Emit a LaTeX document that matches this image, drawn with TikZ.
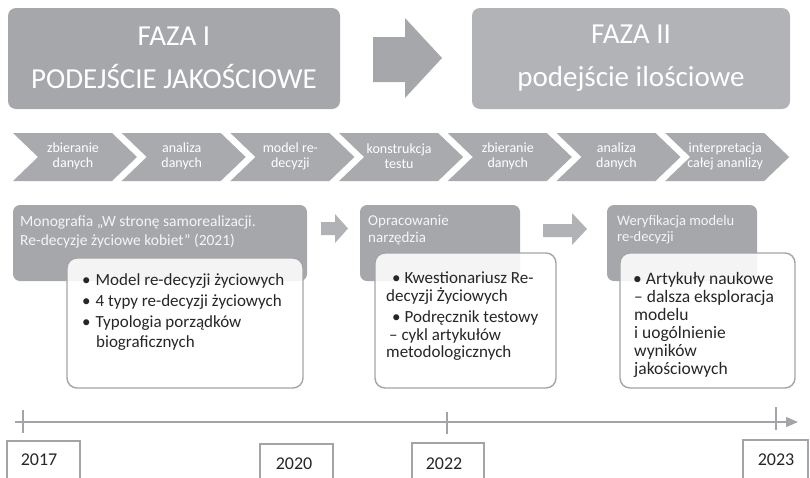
\documentclass[tikz,border=0pt]{standalone}
\usepackage{fontspec}
\setmainfont{Carlito}
\usetikzlibrary{arrows.meta}
\definecolor{gA}{HTML}{A6A7AA}
\definecolor{gB}{HTML}{B2B3B6}
\definecolor{gC}{HTML}{A9AAAD}
\definecolor{gArr}{HTML}{B1B2B5}
\definecolor{gLine}{HTML}{A3A4A7}
\definecolor{txt}{HTML}{262626}
\definecolor{lt}{HTML}{F5F5F5}
\tikzset{
  phase/.style={fill=#1, rounded corners=8pt, draw=none},
  phasetext/.style={text=white, align=center, font=\fontsize{29}{43}\selectfont, inner sep=0pt},
  chevtext/.style={text=white, align=center, font=\fontsize{14}{15}\selectfont, inner sep=0pt},
  graybox/.style={fill=gA, rounded corners=7pt, draw=none},
  whitebox/.style={fill=white, fill opacity=0.88, draw=gLine, line width=1.4pt, rounded corners=10pt},
  ttl/.style={text=lt, anchor=base west, inner sep=0pt},
  blt/.style={text=txt, anchor=base west, inner sep=0pt},
  yearbox/.style={draw=gLine, line width=1.6pt, fill=white},
  yeartext/.style={text=txt, font=\fontsize{18}{20}\selectfont, inner sep=0pt},
  tick/.style={draw=gLine, line width=1.2pt}
}
\begin{document}
\begin{tikzpicture}[x=1pt,y=-1pt]
\useasboundingbox (0,0) rectangle (810,477);
\clip (0,0) rectangle (810,477);
% phase boxes
\path[phase=gA] (8,8) rectangle (340,109);
\node[phasetext] (faza1) at (174,58) {FAZA I\\PODEJŚCIE JAKOŚCIOWE};
\path[phase=gB] (472,8) rectangle (790,109);
\node[phasetext] (faza2) at (631,58) {FAZA II\\podejście ilościowe};
% big arrow
\fill[gA] (373,37) -- (405,37) -- (405,18) -- (442,58) -- (405,98) -- (405,82) -- (373,82) -- cycle;
% chevrons
\foreach \i/\t in {0/{zbieranie\\danych},1/{analiza\\danych},2/{model re-\\decyzji},3/{konstrukcja\\testu},4/{zbieranie\\danych},5/{analiza\\danych},6/{interpretacja\\całej ananlizy}}{
  \pgfmathsetmacro{\L}{13+108.7*\i}
  \fill[gC] (\L,133) -- (\L+99,133) -- (\L+124,157) -- (\L+99,181) -- (\L,181) -- (\L+25,157) -- cycle;
  \node[chevtext] (chev\i) at (\L+60,156) {\t};
}
% middle gray boxes
\path[graybox] (13,205) rectangle (307,281);
\path[graybox] (360,205) rectangle (520,281);
\path[graybox] (607,205) rectangle (757,281);
\node[ttl, font=\fontsize{15.5}{18}\selectfont] (ta1) at (20,226) {Monografia „W stronę samorealizacji.};
\node[ttl, font=\fontsize{15.5}{18}\selectfont] (ta2) at (20,245) {Re-decyzje życiowe kobiet" (2021)};
\node[ttl, font=\fontsize{15}{18}\selectfont] (tb1) at (368,225) {Opracowanie};
\node[ttl, font=\fontsize{15}{18}\selectfont] (tb2) at (368,242) {narzędzia};
\node[ttl, font=\fontsize{14.5}{16}\selectfont] (tc1) at (617,225) {Weryfikacja modelu};
\node[ttl, font=\fontsize{14.5}{16}\selectfont] (tc2) at (617,241) {re-decyzji};
% small arrows
\fill[gArr] (321,222) -- (335,222) -- (335,214) -- (348,228.5) -- (335,243) -- (335,235) -- (321,235) -- cycle;
\fill[gArr] (543,224) -- (572,224) -- (572,213) -- (587,229) -- (572,245) -- (572,237) -- (543,237) -- cycle;
% white boxes
\path[whitebox] (67,258) rectangle (303,388);
\path[whitebox] (375,253) rectangle (556,388);
\path[whitebox] (620,253) rectangle (795,388);
% bullets A
\begin{scope}[font=\fontsize{17}{20}\selectfont]
\node[blt] (a1) at (82,285) {•\hspace{5pt}Model re-decyzji życiowych};
\node[blt] (a2) at (82,306) {•\hspace{5pt}4 typy re-decyzji życiowych};
\node[blt] (a3) at (82,327) {•\hspace{5pt}Typologia porządków};
\node[blt] (a4) at (96,347) {biograficznych};
\end{scope}
% bullets B
\begin{scope}[font=\fontsize{17}{19}\selectfont]
\node[blt] (b1) at (392,283) {•\hspace{4pt}Kwestionariusz Re-};
\node[blt] (b2) at (386,301) {decyzji Życiowych};
\node[blt] (b3) at (392,322) {•\hspace{4pt}Podręcznik testowy};
\node[blt] (b4) at (389,340) {– cykl artykułów};
\node[blt] (b5) at (386,357) {metodologicznych};
\end{scope}
% bullets C
\begin{scope}[font=\fontsize{17.5}{19}\selectfont]
\node[blt] (c1) at (633,284) {•\hspace{4pt}Artykuły naukowe};
\node[blt] (c2) at (634,302) {– dalsza eksploracja};
\node[blt] (c3) at (634,320) {modelu};
\node[blt] (c4) at (634,338) {i uogólnienie};
\node[blt] (c5) at (634,356) {wyników};
\node[blt] (c6) at (634,374) {jakościowych};
\end{scope}
% timeline
\coordinate (tl0) at (15,422);
\coordinate (tl1) at (798,422);
\draw[gLine, line width=1.2pt, -{Triangle[length=12pt,width=10pt]}] (tl0) -- (tl1);
\coordinate (k1a) at (23,410); \coordinate (k1b) at (23,433);
\coordinate (k2a) at (447,412); \coordinate (k2b) at (447,434);
\coordinate (k3a) at (776,407); \coordinate (k3b) at (776,430);
\draw[tick] (k1a) -- (k1b);
\draw[tick] (k2a) -- (k2b);
\draw[tick] (k3a) -- (k3b);
% year boxes
\path[yearbox] (7,441) rectangle (80,495);
\node[yeartext] (y2017) at (39,460) {2017};
\path[yearbox] (260,444) rectangle (333,495);
\node[yeartext] (y2020) at (294,464) {2020};
\path[yearbox] (412,443) rectangle (484,495);
\node[yeartext] (y2022) at (444,464) {2022};
\path[yearbox] (743,440) rectangle (808,495);
\node[yeartext] (y2023) at (776,460) {2023};
\end{tikzpicture}
\end{document}
